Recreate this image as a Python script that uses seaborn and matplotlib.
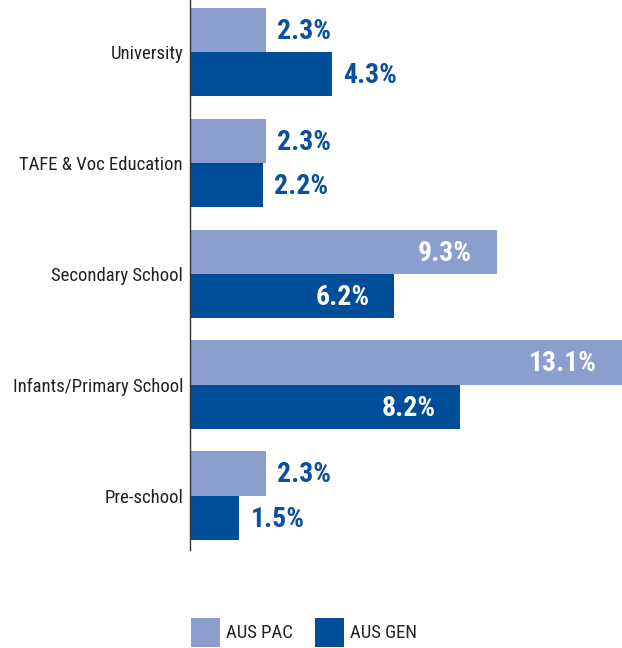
import matplotlib
matplotlib.use("Agg")
import matplotlib.pyplot as plt
import seaborn as sns
import pandas as pd
from matplotlib.patches import Patch

categories = ["University", "TAFE & Voc Education", "Secondary School",
              "Infants/Primary School", "Pre-school"]
series = ["AUS PAC", "AUS GEN"]
aus_pac = [2.3, 2.3, 9.3, 13.1, 2.3]
aus_gen = [4.3, 2.2, 6.2, 8.2, 1.5]
colors = ["#8b9ecd", "#004e99"]
label_color = "#0b4fa0"

df = pd.DataFrame({
    "category": categories * 2,
    "series": [series[0]] * len(categories) + [series[1]] * len(categories),
    "value": aus_pac + aus_gen,
})

sns.set_style("white")
cond = ["Roboto Condensed", "DejaVu Sans"]
plt.rcParams["font.family"] = cond

fig = plt.figure(figsize=(6.22, 6.48), dpi=100)
ax = fig.add_axes([190 / 622, 1 - 550 / 648, 1 - 190 / 622, 550 / 648])

sns.barplot(data=df, x="value", y="category", hue="series", order=categories,
            hue_order=series, palette=colors, orient="h", width=0.8,
            saturation=1, ax=ax, legend=False, linewidth=0)

ax.set_xlim(0, 13.1)
ax.set_ylim(4.49, -0.47)
ax.set_xlabel("")
ax.set_ylabel("")
ax.set_xticks([])
for s in ["top", "right", "bottom"]:
    ax.spines[s].set_visible(False)
ax.spines["left"].set_color("#333333")
ax.spines["left"].set_linewidth(1.0)
ax.tick_params(axis="y", length=0, pad=5, labelsize=13.5, labelcolor="#222222")

inside_threshold = 5.0
for container, vals in zip(ax.containers, [aus_pac, aus_gen]):
    for bar, v in zip(container, vals):
        y = bar.get_y() + bar.get_height() / 2
        txt = f"{v:.1f}%"
        if v >= inside_threshold:
            ax.annotate(txt, (v, y), xytext=(-18, -1), textcoords="offset points",
                        ha="right", va="center", color="white",
                        fontsize=20, fontweight="bold", family=cond)
        else:
            ax.annotate(txt, (v, y), xytext=(8, -1), textcoords="offset points",
                        ha="left", va="center", color=label_color,
                        fontsize=20, fontweight="bold", family=cond)

handles = [Patch(facecolor=c, edgecolor="none", label=s) for c, s in zip(colors, series)]
fig.legend(handles=handles, loc="lower left", bbox_to_anchor=(191 / 622, 1 / 648),
           ncol=2, frameon=False, fontsize=13.5, handlelength=1.55, handleheight=2.0,
           handletextpad=0.3, columnspacing=1.2, borderpad=0, borderaxespad=0,
           labelcolor="#222222")

fig.savefig("out.png", dpi=100)
